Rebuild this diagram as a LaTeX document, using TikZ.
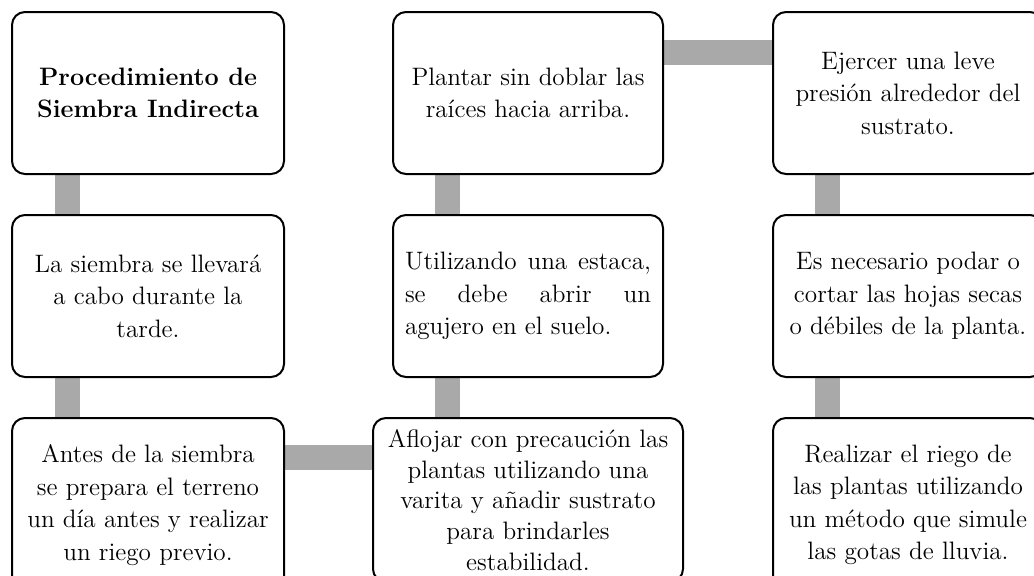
\documentclass[tikz,border=0pt]{standalone}
\usetikzlibrary{calc,backgrounds}
\definecolor{conngray}{RGB}{169,169,169}
\tikzset{
  box/.style={draw=black, line width=1pt, rounded corners=6.5pt, fill=white,
    minimum height=81pt, inner sep=0pt, align=center,
    font=\fontsize{12.6}{16.2}\selectfont},
  rowthree/.style={minimum height=87pt},
  conn/.style={draw=conngray, line width=12.5pt}
}
\begin{document}
\begin{tikzpicture}[x=0.5pt, y=-0.5pt]
\useasboundingbox (0,0) rectangle (1034,575);
\clip (0,0) rectangle (1034,575);
% row 1
\node[box, minimum width=136pt] (r1c1) at (148,93) {\bfseries Procedimiento de\\\bfseries Siembra Indirecta};
\node[box, minimum width=135pt] (r1c2) at (528,93) {Plantar sin doblar las\\raíces hacia arriba.};
\node[box, minimum width=135pt] (r1c3) at (908,93) {Ejercer una leve\\presión alrededor del\\sustrato.};
% row 2
\node[box, minimum width=136pt] (r2c1) at (148,296) {La siembra se llevará\\a cabo durante la\\tarde.};
\node[box, minimum width=135pt, text width=123pt, align=justify] (r2c2) at (528,296) {\hspace*{0pt}Utilizando una estaca,\linebreak se debe abrir un\linebreak agujero en el suelo.};
\node[box, minimum width=135pt] (r2c3) at (908,296) {Es necesario podar o\\cortar las hojas secas\\o débiles de la planta.};
% row 3
\node[box, rowthree, minimum width=136pt] (r3c1) at (148,505) {Antes de la siembra\\se prepara el terreno\\un día antes y realizar\\un riego previo.};
\node[box, minimum height=82pt, minimum width=155pt, font=\fontsize{12.6}{15.4}\selectfont] (r3c2) at (528,500) {Aflojar con precaución las\\plantas utilizando una\\varita y añadir sustrato\\para brindarles\\estabilidad.};
\node[box, rowthree, minimum width=135pt] (r3c3) at (908,505) {Realizar el riego de\\las plantas utilizando\\un método que simule\\las gotas de lluvia.};
% guide coordinates for connector positions
\coordinate (v1) at (67.5,0);
\coordinate (v2) at (447.5,0);
\coordinate (v3) at (827,0);
\coordinate (h1) at (0,52);
\coordinate (h3) at (0,457.5);
% connectors
\begin{scope}[on background layer]
\draw[conn] (r1c1.south -| v1) -- (r2c1.north -| v1);
\draw[conn] (r2c1.south -| v1) -- (r3c1.north -| v1);
\draw[conn] (r3c1.east |- h3) -- (r3c2.west |- h3);
\draw[conn] (r3c2.north -| v2) -- (r2c2.south -| v2);
\draw[conn] (r2c2.north -| v2) -- (r1c2.south -| v2);
\draw[conn] (r1c2.east |- h1) -- (r1c3.west |- h1);
\draw[conn] (r1c3.south -| v3) -- (r2c3.north -| v3);
\draw[conn] (r2c3.south -| v3) -- (r3c3.north -| v3);
\end{scope}
\end{tikzpicture}
\end{document}
